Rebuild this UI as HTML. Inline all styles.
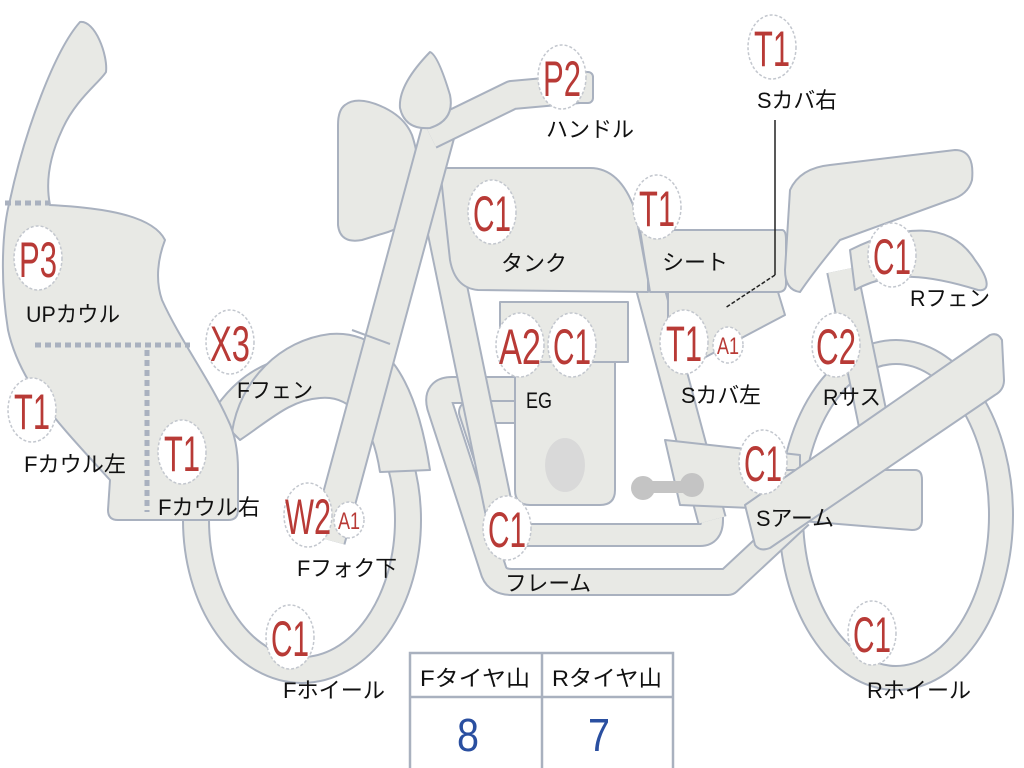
<!DOCTYPE html>
<html><head><meta charset="utf-8"><style>
html,body{margin:0;padding:0;background:#fff;}
svg{display:block;}
.b{fill:#fff;stroke:#c3c7ce;stroke-width:1.5;stroke-dasharray:3 2;}
.bt{fill:#b83a36;font-family:"Liberation Sans",sans-serif;font-size:50px;text-anchor:middle;}
.st{fill:#b83a36;font-family:"Liberation Sans",sans-serif;font-size:24px;text-anchor:middle;}
.lb{fill:#111;font-family:"Liberation Sans","Noto Sans CJK JP",sans-serif;font-size:22px;}
.s{fill:#e8e9e5;stroke:#a9b1bf;stroke-width:2;stroke-linejoin:round;}
.to{fill:none;stroke:#a9b1bf;stroke-linecap:butt;stroke-linejoin:round;}
.ti{fill:none;stroke:#e8e9e5;stroke-linecap:butt;stroke-linejoin:round;}
</style></head><body>
<svg width="1024" height="768" viewBox="0 0 1024 768" xmlns="http://www.w3.org/2000/svg">
<ellipse cx="302" cy="520" rx="106" ry="150" class="to" stroke-width="28"/>
<ellipse cx="302" cy="520" rx="106" ry="150" class="ti" stroke-width="24"/>
<ellipse cx="896" cy="515" rx="105" ry="163" class="to" stroke-width="26"/>
<ellipse cx="896" cy="515" rx="105" ry="163" class="ti" stroke-width="22"/>
<path class="s" d="M232,432 C240,380 280,340 330,334 C380,330 415,370 430,470 L380,472 C372,420 350,395 320,398 C290,400 270,420 240,440 Z"/>
<path class="to" stroke-width="28" d="M520,390 L452,390 Q436,390 440,406 L494,572 Q498,582 512,582 L728,582 L800,515"/>
<path class="ti" stroke-width="24" d="M520,390 L452,390 Q436,390 440,406 L494,572 Q498,582 512,582 L728,582 L800,515"/>
<path class="to" stroke-width="24" d="M515,412 L470,412 L510,535 L700,535 Q712,535 712,520 L712,450"/>
<path class="ti" stroke-width="20" d="M515,412 L470,412 L510,535 L700,535 Q712,535 712,520 L712,450"/>
<path class="to" stroke-width="30" d="M430,175 L500,515"/>
<path class="ti" stroke-width="26" d="M430,175 L500,515"/>
<path class="to" stroke-width="30" d="M640,250 L712,520"/>
<path class="ti" stroke-width="26" d="M640,250 L712,520"/>
<path class="s" d="M665,440 L800,455 L800,510 L680,505 Z"/>
<path class="to" stroke-width="32" d="M842,270 L878,445"/>
<path class="ti" stroke-width="28" d="M842,270 L878,445"/>
<path class="s" d="M850,250 C900,225 950,220 975,260 C990,280 990,292 978,290 C930,275 890,270 855,290 Z"/>
<path class="s" d="M515,360 L615,360 L615,490 Q615,505 600,505 L530,505 Q515,505 515,490 Z"/>
<rect class="s" x="500" y="302" width="128" height="60"/>
<ellipse cx="565" cy="465" rx="20" ry="27" fill="#d9d9d9"/>
<g fill="#c4c4c4"><circle cx="643" cy="488" r="12"/><circle cx="692" cy="485" r="12"/><rect x="643" y="481" width="50" height="12"/></g>
<path class="s" d="M780,470 L915,470 Q922,470 922,480 L922,520 Q922,530 912,530 L790,520 Z"/>
<path class="s" d="M745,505 L990,335 Q998,332 1002,340 L1004,380 Q1004,390 995,395 L770,548 Q760,552 755,545 Z"/>
<path class="s" d="M668,292 L778,292 L785,315 L700,360 L668,360 Z"/>
<path class="s" d="M640,230 L782,230 Q786,230 786,240 L786,284 Q786,292 778,292 L650,292 Z"/>
<path class="s" d="M790,190 Q800,168 830,165 L955,150 Q975,150 972,180 Q968,195 950,200 L840,240 Q815,270 800,292 Q785,290 785,270 Z"/>
<path class="s" d="M440,168 L590,168 Q620,168 635,210 L648,280 L648,292 L478,290 Q455,288 450,260 Z"/>
<path class="s" d="M345,105 Q358,95 385,108 Q405,118 412,135 Q422,165 418,200 Q410,225 388,232 L362,240 Q340,244 338,225 L338,125 Q338,110 345,105 Z"/>
<path class="to" stroke-width="36" d="M328,540 L440,125"/>
<path class="ti" stroke-width="32" d="M328,540 L440,125"/>
<path class="to" stroke-width="2" d="M352,330 L390,344"/>
<path class="to" stroke-width="30" d="M430,135 L512,95 L590,88"/>
<path class="ti" stroke-width="26" d="M430,135 L512,95 L590,88"/>
<rect class="s" x="575" y="72" width="18" height="31" rx="5"/>
<path class="s" d="M430,52 Q438,55 450,95 Q455,120 430,128 Q405,130 400,108 Q398,85 430,52 Z"/>
<path class="s" d="M80,22 C95,20 108,55 106,72 C100,82 75,100 62,130 C48,160 46,185 50,205 C80,207 150,210 165,240 C158,258 155,280 162,300 C180,340 210,380 228,420 Q238,440 238,470 L238,510 Q238,520 228,520 L118,520 Q108,520 108,510 L110,480 C60,425 20,385 8,330 C0,280 2,230 10,200 C25,130 55,50 80,22 Z"/>
<g stroke="#a9b1bf" stroke-width="5" stroke-dasharray="6 4" fill="none">
<path d="M5,203 L50,203"/><path d="M35,345 L190,345"/><path d="M147,350 L147,512"/>
</g>
<path d="M775,120 L775,275" stroke="#222" stroke-width="1.5" fill="none"/>
<path d="M775,275 L725,308" stroke="#222" stroke-width="1.5" stroke-dasharray="4 2" fill="none"/>
<g>
<ellipse class="b" cx="38" cy="258" rx="24" ry="32"/><text class="bt" x="38" y="277" textLength="38" lengthAdjust="spacingAndGlyphs">P3</text>
<ellipse class="b" cx="32" cy="410" rx="24" ry="32"/><text class="bt" x="32" y="429" textLength="36" lengthAdjust="spacingAndGlyphs">T1</text>
<ellipse class="b" cx="230" cy="342" rx="24" ry="32"/><text class="bt" x="230" y="361" textLength="40" lengthAdjust="spacingAndGlyphs">X3</text>
<ellipse class="b" cx="182" cy="452" rx="24" ry="32"/><text class="bt" x="182" y="471" textLength="36" lengthAdjust="spacingAndGlyphs">T1</text>
<ellipse class="b" cx="308" cy="515" rx="24" ry="32"/><text class="bt" x="308" y="534" textLength="46" lengthAdjust="spacingAndGlyphs">W2</text>
<ellipse class="b" cx="349" cy="520" rx="15" ry="18"/><text class="st" x="349" y="529" textLength="22" lengthAdjust="spacingAndGlyphs">A1</text>
<ellipse class="b" cx="290" cy="637" rx="24" ry="32"/><text class="bt" x="290" y="656" textLength="38" lengthAdjust="spacingAndGlyphs">C1</text>
<ellipse class="b" cx="562" cy="77" rx="24" ry="32"/><text class="bt" x="562" y="96" textLength="38" lengthAdjust="spacingAndGlyphs">P2</text>
<ellipse class="b" cx="492" cy="212" rx="24" ry="32"/><text class="bt" x="492" y="231" textLength="38" lengthAdjust="spacingAndGlyphs">C1</text>
<ellipse class="b" cx="657" cy="207" rx="24" ry="32"/><text class="bt" x="657" y="226" textLength="36" lengthAdjust="spacingAndGlyphs">T1</text>
<ellipse class="b" cx="772" cy="47" rx="24" ry="32"/><text class="bt" x="772" y="66" textLength="36" lengthAdjust="spacingAndGlyphs">T1</text>
<ellipse class="b" cx="520" cy="345" rx="24" ry="32"/><text class="bt" x="520" y="364" textLength="42" lengthAdjust="spacingAndGlyphs">A2</text>
<ellipse class="b" cx="572" cy="345" rx="24" ry="32"/><text class="bt" x="572" y="364" textLength="38" lengthAdjust="spacingAndGlyphs">C1</text>
<ellipse class="b" cx="684" cy="342" rx="24" ry="32"/><text class="bt" x="684" y="361" textLength="36" lengthAdjust="spacingAndGlyphs">T1</text>
<ellipse class="b" cx="728" cy="345" rx="15" ry="18"/><text class="st" x="728" y="354" textLength="22" lengthAdjust="spacingAndGlyphs">A1</text>
<ellipse class="b" cx="836" cy="345" rx="24" ry="32"/><text class="bt" x="836" y="364" textLength="40" lengthAdjust="spacingAndGlyphs">C2</text>
<ellipse class="b" cx="892" cy="255" rx="24" ry="32"/><text class="bt" x="892" y="274" textLength="38" lengthAdjust="spacingAndGlyphs">C1</text>
<ellipse class="b" cx="763" cy="462" rx="24" ry="32"/><text class="bt" x="763" y="481" textLength="38" lengthAdjust="spacingAndGlyphs">C1</text>
<ellipse class="b" cx="507" cy="528" rx="24" ry="32"/><text class="bt" x="507" y="547" textLength="38" lengthAdjust="spacingAndGlyphs">C1</text>
<ellipse class="b" cx="872" cy="633" rx="24" ry="32"/><text class="bt" x="872" y="652" textLength="38" lengthAdjust="spacingAndGlyphs">C1</text>
</g>
<g class="lb">
<text x="26" y="322" textLength="94" lengthAdjust="spacingAndGlyphs">UPカウル</text>
<text x="24" y="472" textLength="102" lengthAdjust="spacingAndGlyphs">Fカウル左</text>
<text x="237" y="398" textLength="76" lengthAdjust="spacingAndGlyphs">Fフェン</text>
<text x="158" y="515" textLength="102" lengthAdjust="spacingAndGlyphs">Fカウル右</text>
<text x="297" y="576" textLength="100" lengthAdjust="spacingAndGlyphs">Fフォク下</text>
<text x="283" y="698" textLength="102" lengthAdjust="spacingAndGlyphs">Fホイール</text>
<text x="546" y="137" textLength="88" lengthAdjust="spacingAndGlyphs">ハンドル</text>
<text x="501" y="271" textLength="66" lengthAdjust="spacingAndGlyphs">タンク</text>
<text x="662" y="270" textLength="66" lengthAdjust="spacingAndGlyphs">シート</text>
<text x="757" y="108" textLength="80" lengthAdjust="spacingAndGlyphs">Sカバ右</text>
<text x="526" y="408" textLength="26" lengthAdjust="spacingAndGlyphs">EG</text>
<text x="681" y="403" textLength="80" lengthAdjust="spacingAndGlyphs">Sカバ左</text>
<text x="823" y="405" textLength="58" lengthAdjust="spacingAndGlyphs">Rサス</text>
<text x="910" y="306" textLength="80" lengthAdjust="spacingAndGlyphs">Rフェン</text>
<text x="756" y="526" textLength="78" lengthAdjust="spacingAndGlyphs">Sアーム</text>
<text x="505" y="591" textLength="86" lengthAdjust="spacingAndGlyphs">フレーム</text>
<text x="867" y="698" textLength="104" lengthAdjust="spacingAndGlyphs">Rホイール</text>
</g>
<rect x="410" y="653" width="263" height="120" fill="#fff" stroke="#a9b1bf" stroke-width="2.5"/>
<path d="M410,697 L673,697 M542,653 L542,768" stroke="#a9b1bf" stroke-width="2.5"/>
<text class="lb" x="420" y="686" textLength="110" lengthAdjust="spacingAndGlyphs">Fタイヤ山</text>
<text class="lb" x="552" y="686" textLength="110" lengthAdjust="spacingAndGlyphs">Rタイヤ山</text>
<text x="468" y="751" fill="#2a4fa0" font-family="Liberation Sans,sans-serif" font-size="46" text-anchor="middle" textLength="22" lengthAdjust="spacingAndGlyphs">8</text>
<text x="599" y="751" fill="#2a4fa0" font-family="Liberation Sans,sans-serif" font-size="46" text-anchor="middle" textLength="22" lengthAdjust="spacingAndGlyphs">7</text>
</svg>
</body></html>
